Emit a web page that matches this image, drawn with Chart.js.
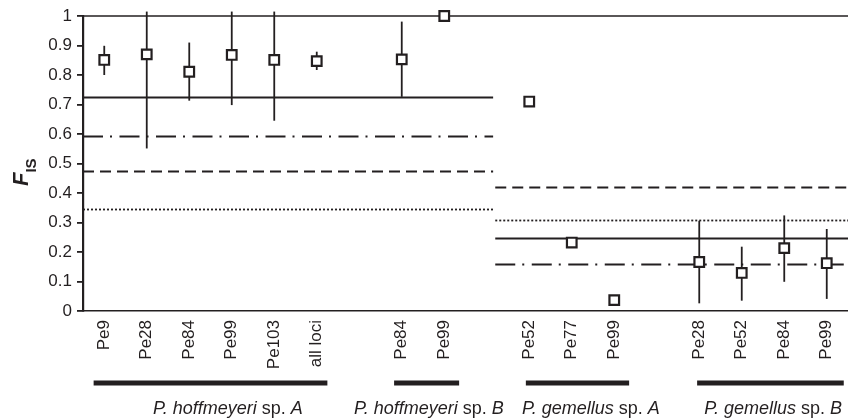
<!DOCTYPE html>
<html><head><meta charset="utf-8">
<script src="https://cdn.jsdelivr.net/npm/chart.js@4.4.1/dist/chart.umd.min.js"></script>
<style>html,body{margin:0;padding:0;background:#fff}#wrap{width:848px;height:419px}</style>
</head><body><div id="wrap"><canvas id="c" width="848" height="419"></canvas></div>
<script>
// ---- data ----
const categories = ['Pe9','Pe28','Pe84','Pe99','Pe103','all loci','','Pe84','Pe99','','Pe52','Pe77','Pe99','','Pe28','Pe52','Pe84','Pe99'];
const fisValues  = [0.851,0.870,0.811,0.868,0.851,0.847,null,0.853,1.000,null,0.710,0.232,0.037,null,0.166,0.129,0.213,0.162];
const errLow     = [0.800,0.551,0.713,0.698,0.645,0.817,null,0.726,null,null,null,null,null,null,0.026,0.035,0.099,0.041];
const errHigh    = [0.899,1.015,0.910,1.015,1.015,0.879,null,0.981,null,null,null,null,null,null,0.306,0.218,0.324,0.278];
const yTicks     = [0,0.1,0.2,0.3,0.4,0.5,0.6,0.7,0.8,0.9,1];
// reference levels: [solid, dash-dot, dashed, dotted]
const refHoffmeyeri = [0.726,0.594,0.476,0.345];
const refGemellus   = [0.247,0.159,0.420,0.308];
const groupNames = [['P. hoffmeyeri','A'],['P. hoffmeyeri','B'],['P. gemellus','A'],['P. gemellus','B']];

const INK = '#231f20';
const FONT = "'Liberation Sans', Arial, sans-serif";

const refStyles = [[],[20,7,2,7.5],[11,6],[2,2]];

const overlay = {
  id:'overlay',
  beforeDatasetsDraw(chart, args, opts){
    const {ctx, chartArea:ca, scales:{x,y}} = chart;
    ctx.save();
    ctx.strokeStyle = INK;
    ctx.lineWidth = 1.6; ctx.setLineDash([]);
    ctx.beginPath(); ctx.moveTo(ca.left, y.getPixelForValue(1)); ctx.lineTo(ca.right, y.getPixelForValue(1)); ctx.stroke();
    const split1 = x.getPixelForValue(opts.splitEnd), split2 = x.getPixelForValue(opts.splitStart);
    const drawSet = (levels, x0, x1) => {
      levels.forEach((v,i)=>{
        ctx.setLineDash(refStyles[i]);
        ctx.lineWidth = i===3 ? 1.8 : 2;
        const py = Math.round(y.getPixelForValue(v))+0.5;
        ctx.beginPath(); ctx.moveTo(x0, py); ctx.lineTo(x1, py); ctx.stroke();
      });
    };
    drawSet(refHoffmeyeri, ca.left, split1);
    drawSet(refGemellus, split2, ca.right);
    ctx.setLineDash([]); ctx.lineWidth = 1.8;
    fisValues.forEach((v,i)=>{
      if (errLow[i]==null || errHigh[i]==null) return;
      const px = x.getPixelForValue(i);
      ctx.beginPath(); ctx.moveTo(px, y.getPixelForValue(errLow[i])); ctx.lineTo(px, y.getPixelForValue(errHigh[i])); ctx.stroke();
    });
    ctx.restore();
  },
  afterDraw(chart, args, opts){
    const {ctx, scales:{x,y}} = chart;
    ctx.save();
    ctx.fillStyle = INK; ctx.strokeStyle = INK;
    opts.bars.forEach((b,gi)=>{
      const x0 = x.getPixelForValue(b[0]), x1 = x.getPixelForValue(b[1]);
      ctx.fillRect(x0, opts.barY-2.5, x1-x0, 5);
      const parts = [[groupNames[gi][0], true],[' sp. ', false],[groupNames[gi][1], true]];
      let w = 0;
      parts.forEach(p=>{ ctx.font = (p[1]?'italic ':'')+'18px '+FONT; w += ctx.measureText(p[0]).width; });
      let cx = x.getPixelForValue(opts.labelCenters[gi]) - w/2;
      ctx.textBaseline = 'middle'; ctx.textAlign='left';
      parts.forEach(p=>{ ctx.font = (p[1]?'italic ':'')+'18px '+FONT; ctx.fillText(p[0], cx, opts.labelY); cx += ctx.measureText(p[0]).width; });
    });
    // y axis title F_IS
    ctx.translate(0, 186);
    ctx.rotate(-Math.PI/2);
    ctx.textBaseline = 'alphabetic'; ctx.textAlign='left';
    ctx.font = 'italic bold 22px '+FONT;
    ctx.fillText('F', 0, 28);
    const fw = ctx.measureText('F').width;
    ctx.font = 'bold 15px '+FONT;
    ctx.fillText('IS', fw, 36);
    ctx.restore();
  }
};

new Chart(document.getElementById('c'), {
  type:'line',
  data:{
    labels: categories,
    datasets:[{
      data: fisValues,
      showLine:false,
      pointStyle:'rect',
      pointRadius:6.8,
      pointHoverRadius:6.8,
      pointBorderWidth:2.2,
      pointBackgroundColor:'#fff',
      pointBorderColor:INK,
      clip:false
    }]
  },
  plugins:[overlay],
  options:{
    responsive:false,
    animation:false,
    devicePixelRatio:1,
    layout:{autoPadding:false,padding:{top:16,right:0,bottom:0,left:0}},
    plugins:{
      legend:{display:false},
      tooltip:{enabled:false},
      overlay:{
        splitEnd:9.15, splitStart:9.2,
        bars:[[-0.25,5.25],[6.82,8.35],[9.92,12.35],[13.95,17.4]],
        labelCenters:[2.91,7.64,11.45,15.74],
        barY:383, labelY:409
      }
    },
    scales:{
      x:{
        type:'category',
        offset:true,
        grid:{display:false},
        border:{display:true,color:INK,width:1.6},
        ticks:{autoSkip:false,minRotation:90,maxRotation:90,padding:1,color:INK,font:{family:FONT,size:17}},
        afterFit(s){ s.height = 108; s.paddingLeft = 0; s.paddingRight = 0; }
      },
      y:{
        min:0,max:1,
        afterBuildTicks(s){ s.ticks = yTicks.map(v=>({value:v})); },
        grid:{drawOnChartArea:false,drawTicks:true,tickLength:6,color:INK,lineWidth:1.8},
        border:{display:true,color:INK,width:2.2},
        ticks:{padding:5,color:INK,font:{family:FONT,size:17},callback:v=>String(Math.round(v*10)/10)},
        afterFit(s){ s.width = 83; s.paddingTop = 0; s.paddingBottom = 0; }
      }
    }
  }
});
</script></body></html>
